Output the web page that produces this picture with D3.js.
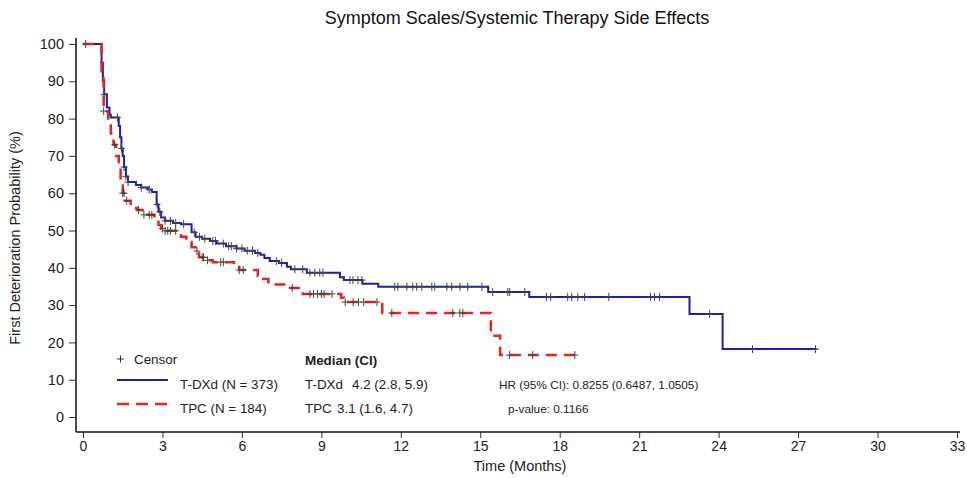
<!DOCTYPE html>
<html>
<head>
<meta charset="utf-8">
<script src="https://cdn.jsdelivr.net/npm/d3@7"></script>
<style>
  body { margin: 0; background: #fff; }
  text { font-family: "Liberation Sans", Arial, sans-serif; fill: #222; }
</style>
</head>
<body>
<svg id="chart" width="967" height="478"></svg>
<script>
// Kaplan-Meier step points [time in months, probability %]
const tdxdSteps = [
  [0, 100], [0.70, 95], [0.75, 90], [0.80, 86.5], [0.90, 83], [1.00, 81], [1.05, 80.3],
  [1.35, 78], [1.40, 75], [1.45, 72], [1.50, 70], [1.55, 67], [1.62, 64.5], [1.70, 63],
  [2.00, 62.2], [2.20, 61.5], [2.45, 61], [2.60, 60.3], [2.78, 57], [2.85, 55], [2.95, 53.5],
  [3.10, 52.6], [3.40, 52], [3.70, 51.7], [4.10, 49.5], [4.25, 48.3], [4.50, 47.8],
  [4.80, 47.2], [5.05, 46.5], [5.40, 45.8], [5.80, 45.2], [6.10, 44.6], [6.50, 44.0],
  [6.70, 43.5], [6.85, 42.6], [7.05, 41.8], [7.40, 41.3], [7.70, 40.3], [7.85, 39.6],
  [8.45, 38.7], [9.70, 37.5], [9.85, 36.7], [10.55, 35.7], [11.15, 34.9], [15.30, 33.5],
  [16.85, 32.2], [22.90, 27.6], [24.15, 18.2]
];
const tdxdEnd = 27.7;
const tdxdCensor = [
  0.80, 1.30, 1.45, 1.55, 1.62, 1.70, 2.20, 2.50, 2.80, 2.90, 3.10, 3.30, 3.50, 3.80,
  4.20, 4.40, 4.60, 4.90, 5.00, 5.30, 5.50, 5.60, 5.80, 6.00, 6.20, 6.40, 6.60, 7.30,
  7.50, 8.00, 8.30, 8.57, 8.75, 8.94, 9.06, 10.08, 10.19, 10.38, 10.53, 11.77, 11.89,
  12.23, 12.45, 12.60, 12.79, 13.17, 13.28, 13.74, 13.92, 14.23, 14.53, 15.06, 15.47,
  16.04, 16.11, 16.68, 17.50, 17.66, 18.30, 18.45, 18.68, 18.94, 19.85, 21.43, 21.58,
  21.77, 23.66, 25.28, 27.66
];

const tpcSteps = [
  [0, 100], [0.70, 92], [0.78, 82], [0.95, 79], [1.05, 76], [1.15, 73], [1.25, 70],
  [1.35, 67], [1.42, 63], [1.50, 60], [1.60, 58], [1.80, 56], [2.05, 55.5], [2.25, 54.2],
  [2.70, 52.8], [2.85, 51.5], [2.95, 50.5], [3.05, 49.9], [3.70, 48.3], [3.90, 46.9],
  [4.10, 45.5], [4.25, 44.5], [4.38, 42.8], [4.60, 42.0], [4.90, 41.5], [5.70, 40.7],
  [5.90, 39.4], [6.60, 37.8], [6.75, 37.0], [7.00, 35.5], [7.65, 34.6], [8.30, 33.0],
  [9.75, 32.0], [9.85, 30.8], [11.30, 27.9], [15.40, 21.8], [15.75, 16.6]
];
const tpcEnd = 18.6;
const tpcCensor = [
  0.10, 0.78, 1.20, 1.50, 1.55, 1.65, 2.10, 2.30, 2.50, 2.60, 3.00, 3.10, 3.20, 3.30,
  3.50, 4.30, 4.50, 4.55, 4.70, 5.20, 5.30, 5.90, 6.05, 7.90, 8.57, 8.70, 8.85, 9.00,
  9.10, 9.40, 9.90, 10.20, 10.40, 10.60, 11.10, 11.66, 13.96, 14.23, 14.34, 16.10,
  16.98, 18.57
];

const xTicks = d3.range(0, 34, 3);
const yTicks = d3.range(0, 101, 10);

const titleText = "Symptom Scales/Systemic Therapy Side Effects";
const xLabel = "Time (Months)";
const yLabel = "First Deterioration Probability (%)";
const legendSeries = ["T-DXd (N = 373)", "TPC (N = 184)"];
const medianRows = [["T-DXd", "4.2 (2.8, 5.9)"], ["TPC", "3.1 (1.6, 4.7)"]];
const hrText = "HR (95% CI): 0.8255 (0.6487, 1.0505)";
const pText = "p-value: 0.1166";

const blue = "#1c1fae";
const red = "#e0261f";

const svg = d3.select("#chart");
const x = d3.scaleLinear().domain([0, 33]).range([83, 957]);
const y = d3.scaleLinear().domain([0, 100]).range([417, 44]);
const axisX0 = 76, axisY0 = 432;

// Title
svg.append("text").attr("x", 517).attr("y", 24).attr("text-anchor", "middle")
  .style("font-size", "18px").style("fill", "#111").text(titleText);

// Y axis
const gy = svg.append("g").attr("transform", `translate(${axisX0},0)`)
  .call(d3.axisLeft(y).tickValues(yTicks).tickSize(7).tickSizeOuter(0));
gy.select(".domain").remove();
gy.selectAll(".tick line").attr("stroke", "#333");
gy.selectAll(".tick text").style("font-size", "14.5px").attr("x", -12).style("fill", "#222");
svg.append("line").attr("x1", axisX0).attr("x2", axisX0).attr("y1", 38).attr("y2", axisY0)
  .attr("stroke", "#111").attr("stroke-width", 1.5);

// X axis
const gx = svg.append("g").attr("transform", `translate(0,${axisY0})`)
  .call(d3.axisBottom(x).tickValues(xTicks).tickSize(6).tickSizeOuter(0));
gx.select(".domain").remove();
gx.selectAll(".tick line").attr("stroke", "#333");
gx.selectAll(".tick text").style("font-size", "14px").attr("y", 9).style("fill", "#222");
svg.append("line").attr("x1", axisX0).attr("x2", 960).attr("y1", axisY0).attr("y2", axisY0)
  .attr("stroke", "#111").attr("stroke-width", 1.5);

svg.append("text").attr("x", 520).attr("y", 471).attr("text-anchor", "middle")
  .style("font-size", "14.5px").text(xLabel);
svg.append("text").attr("transform", "translate(20,238) rotate(-90)").attr("text-anchor", "middle")
  .style("font-size", "14.5px").text(yLabel);

// Curves
function stepValue(steps, t) {
  let v = steps[0][1];
  for (const s of steps) { if (s[0] <= t) v = s[1]; else break; }
  return v;
}
const line = d3.line().x(d => x(d[0])).y(d => y(d[1])).curve(d3.curveStepAfter);

function drawCurve(steps, end, color, width, dash) {
  const pts = steps.concat([[end, steps[steps.length - 1][1]]]);
  svg.append("path").datum(pts).attr("d", line).attr("fill", "none")
    .attr("stroke", color).attr("stroke-width", width)
    .attr("stroke-dasharray", dash || null);
}
function drawCensors(steps, times) {
  svg.append("g").selectAll("path").data(times).join("path")
    .attr("d", t => {
      const cx = x(t), cy = y(stepValue(steps, t));
      return `M${cx - 3.5},${cy}H${cx + 3.5}M${cx},${cy - 4}V${cy + 4}`;
    })
    .attr("stroke", "#444").attr("stroke-width", 1).attr("fill", "none");
}

drawCurve(tdxdSteps, tdxdEnd, blue, 2);
drawCurve(tpcSteps, tpcEnd, red, 2.5, "11,7");
drawCensors(tdxdSteps, tdxdCensor);
drawCensors(tpcSteps, tpcCensor);

// Legend and summary statistics
const lg = svg.append("g").style("font-size", "13.4px");
lg.append("path").attr("d", "M117,359H124M120.5,355.5V362.5").attr("stroke", "#333").attr("stroke-width", 1);
lg.append("text").attr("x", 134).attr("y", 364).text("Censor");
lg.append("line").attr("x1", 117).attr("x2", 168).attr("y1", 380).attr("y2", 380)
  .attr("stroke", blue).attr("stroke-width", 2);
lg.append("text").attr("x", 180).attr("y", 389).text(legendSeries[0]);
lg.append("line").attr("x1", 117).attr("x2", 168).attr("y1", 404).attr("y2", 404)
  .attr("stroke", red).attr("stroke-width", 2.5).attr("stroke-dasharray", "12,7");
lg.append("text").attr("x", 180).attr("y", 413).text(legendSeries[1]);

const med = svg.append("g").style("font-size", "13.4px");
med.append("text").attr("x", 305).attr("y", 365).style("font-weight", "bold").text("Median (CI)");
med.append("text").attr("x", 305).attr("y", 389).text(medianRows[0][0]);
med.append("text").attr("x", 352).attr("y", 389).text(medianRows[0][1]);
med.append("text").attr("x", 305).attr("y", 413).text(medianRows[1][0]);
med.append("text").attr("x", 337).attr("y", 413).text(medianRows[1][1]);

const stats = svg.append("g").style("font-size", "11.8px");
stats.append("text").attr("x", 499).attr("y", 389).text(hrText);
stats.append("text").attr("x", 508).attr("y", 413).text(pText);
</script>
</body>
</html>
